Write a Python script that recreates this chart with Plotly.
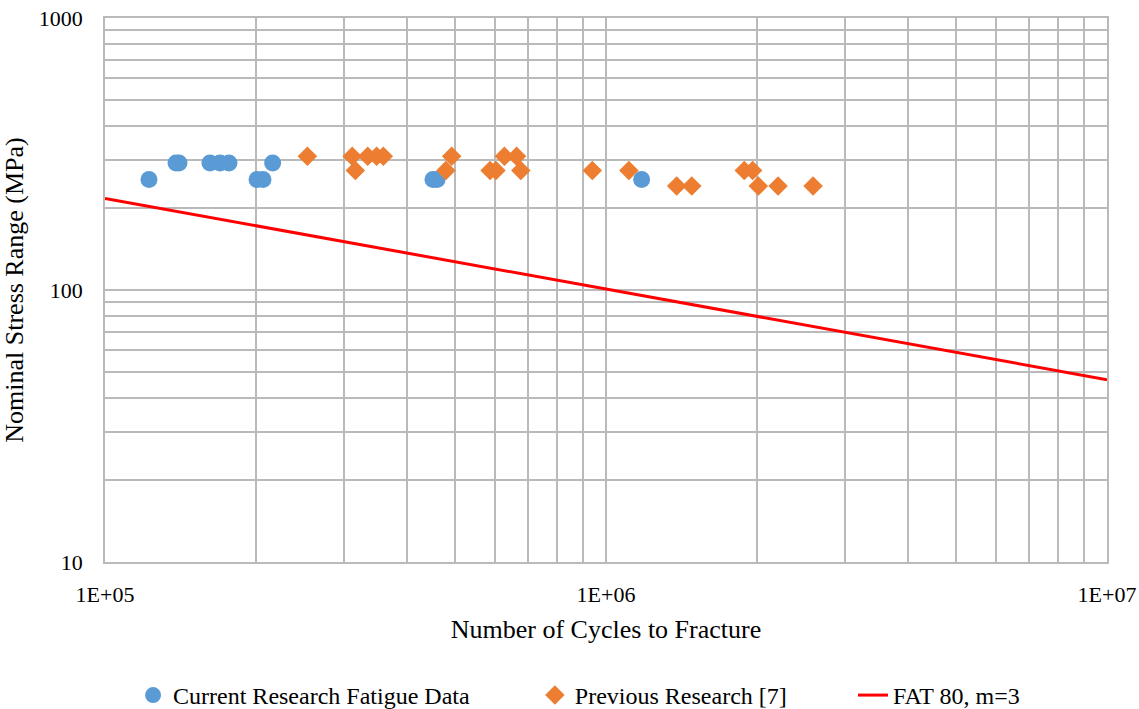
import plotly.graph_objects as go

current_N = [1.224e5, 1.386e5, 1.405e5, 1.62e5, 1.696e5, 1.768e5, 2.011e5, 2.067e5, 2.161e5, 4.515e5, 4.6e5, 1.178e6]
current_S = [255, 293, 293, 293, 293, 293, 255, 255, 293, 255, 255, 255]

previous_N = [2.535e5, 3.115e5, 3.16e5, 3.345e5, 3.485e5, 3.594e5, 4.79e5, 4.92e5, 5.87e5, 6.03e5, 6.27e5,
              6.63e5, 6.76e5, 9.39e5, 1.111e6, 1.384e6, 1.483e6, 1.888e6, 1.962e6, 2.014e6, 2.205e6, 2.59e6]
previous_S = [310, 310, 275, 310, 310, 310, 275, 310, 275, 275, 310,
              310, 275, 275, 275, 241, 241, 275, 275, 241, 241, 241]

fat_N = [1e5, 1e7]
fat_S = [217.1, 46.8]

x_tickvals = [1e5, 1e6, 1e7]
x_ticktext = ["1E+05", "1E+06", "1E+07"]
y_tickvals = [10, 100, 1000]
y_ticktext = ["10", "100", "1000"]

font_family = "Liberation Serif"
grid = "#bababa"
tick_size = 22
title_size = 26
legend_size = 24

fig = go.Figure()
fig.add_trace(go.Scatter(x=current_N, y=current_S, mode="markers", name="Current Research Fatigue Data",
                         marker=dict(symbol="circle", size=17, color="#5B9BD5"), legend="legend"))
fig.add_trace(go.Scatter(x=previous_N, y=previous_S, mode="markers", name="Previous Research [7]",
                         marker=dict(symbol="diamond", size=15, color="#ED7D31"), legend="legend2"))
fig.add_trace(go.Scatter(x=fat_N, y=fat_S, mode="lines", name="FAT 80, m=3",
                         line=dict(color="#FF0000", width=3), legend="legend3"))

leg_common = dict(orientation="h", xref="paper", yref="container", y=0.0508, yanchor="top", xanchor="left",
                  font=dict(size=legend_size, family=font_family, color="black"),
                  bgcolor="rgba(0,0,0,0)", borderwidth=0)

fig.update_layout(
    width=1139, height=709,
    margin=dict(l=105, r=32, t=18, b=147),
    paper_bgcolor="white", plot_bgcolor="white",
    font=dict(family=font_family, size=tick_size, color="black"),
    showlegend=True,
    legend=dict(x=0.028, **leg_common),
    legend2=dict(x=0.429, **leg_common),
    legend3=dict(x=0.7465, **leg_common),
)
fig.update_xaxes(type="log", range=[5, 7], tickvals=x_tickvals, ticktext=x_ticktext,
                 showgrid=True, gridcolor=grid, gridwidth=1.5,
                 minor=dict(showgrid=True, gridcolor=grid, gridwidth=1.5, dtick="D1"),
                 showline=True, linecolor=grid, linewidth=1.5, mirror=True,
                 ticks="", ticklabelstandoff=12, zeroline=False, automargin=False,
                 tickfont=dict(size=tick_size, family=font_family),
                 title=dict(text="Number of Cycles to Fracture", font=dict(size=title_size, family=font_family), standoff=14))
fig.update_yaxes(type="log", range=[1, 3], tickvals=y_tickvals, ticktext=y_ticktext,
                 showgrid=True, gridcolor=grid, gridwidth=1.5,
                 minor=dict(showgrid=True, gridcolor=grid, gridwidth=1.5, dtick="D1"),
                 showline=True, linecolor=grid, linewidth=1.5, mirror=True,
                 ticks="", ticklabelstandoff=16, zeroline=False, automargin=False,
                 tickfont=dict(size=tick_size, family=font_family),
                 title=dict(text="Nominal Stress Range (MPa)", font=dict(size=title_size, family=font_family), standoff=8))

fig.write_html("out.html", config={"displayModeBar": False},
               post_script="document.body.style.margin='0px';")
